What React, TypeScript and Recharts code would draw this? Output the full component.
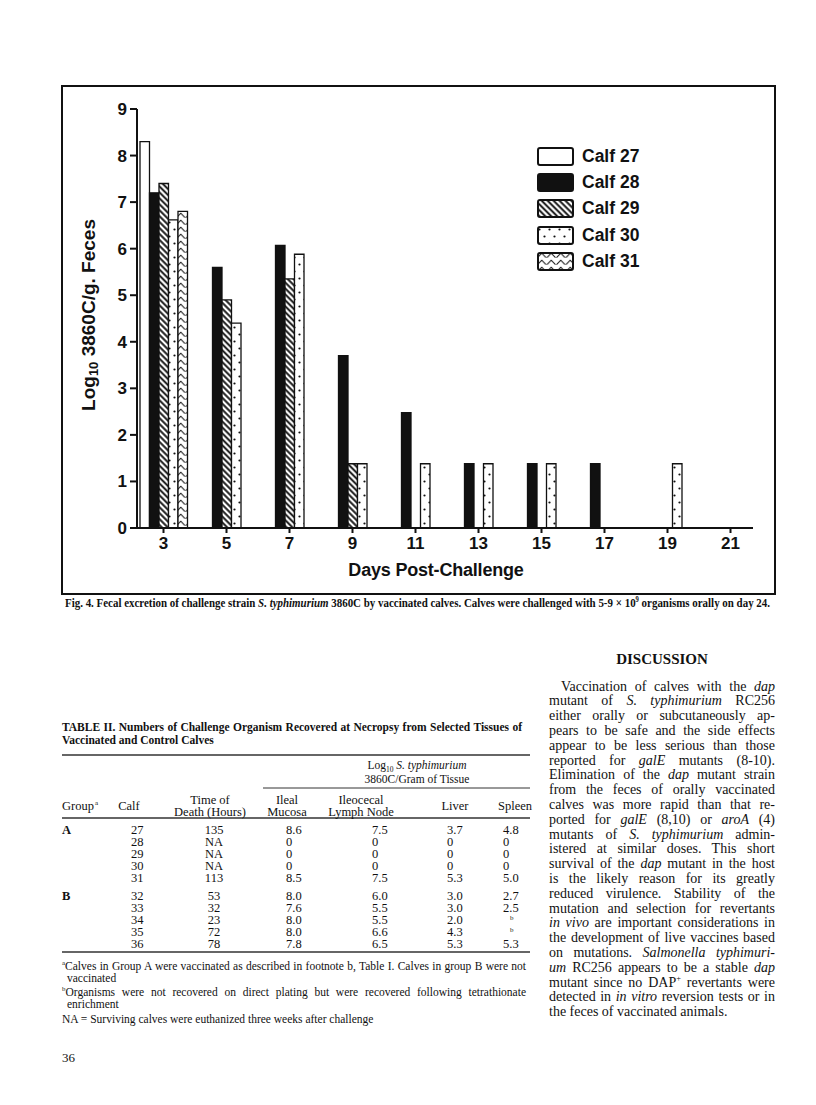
import React, { useLayoutEffect, useRef, useState } from "react";
import { BarChart, Bar, XAxis, YAxis, Legend, Label } from "recharts";

// Fig. 4 - log10 3860C per g feces, by day post-challenge
const days = ["3", "5", "7", "9", "11", "13", "15", "17", "19", "21"];
const calf27 = [8.3, null, null, null, null, null, null, null, null, null];
const calf28 = [7.2, 5.6, 6.07, 3.7, 2.48, 1.38, 1.38, 1.38, null, null];
const calf29 = [7.4, 4.9, 5.35, 1.38, null, null, null, null, null, null];
const calf30 = [6.62, 4.4, 5.88, 1.38, 1.38, 1.38, 1.38, null, 1.38, null];
const calf31 = [6.8, null, null, null, null, null, null, null, null, null];
const yTicks = [0, 1, 2, 3, 4, 5, 6, 7, 8, 9];

const series = [
  { key: "c27", name: "Calf 27", values: calf27, fill: "#fff" },
  { key: "c28", name: "Calf 28", values: calf28, fill: "#111" },
  { key: "c29", name: "Calf 29", values: calf29, fill: "url(#hatch29)" },
  { key: "c30", name: "Calf 30", values: calf30, fill: "url(#dots30)" },
  { key: "c31", name: "Calf 31", values: calf31, fill: "url(#zig31)" },
];

const data = days.map((day, i) => {
  const row: Record<string, string | number | null> = { day };
  series.forEach((s) => (row[s.key] = s.values[i]));
  return row;
});

// Table II
const tableGroups = ["A", "", "", "", "", "B", "", "", "", ""];
const tableCalves = ["27", "28", "29", "30", "31", "32", "33", "34", "35", "36"];
const tableDeath = ["135", "NA", "NA", "NA", "113", "53", "32", "23", "72", "78"];
const tableIleal = ["8.6", "0", "0", "0", "8.5", "8.0", "7.6", "8.0", "8.0", "7.8"];
const tableIleocecal = ["7.5", "0", "0", "0", "7.5", "6.0", "5.5", "5.5", "6.6", "6.5"];
const tableLiver = ["3.7", "0", "0", "0", "5.3", "3.0", "3.0", "2.0", "4.3", "5.3"];
const tableSpleen = ["4.8", "0", "0", "0", "5.0", "2.7", "2.5", "b", "b", "5.3"];
const rowY = [830, 842, 854, 866, 878, 896, 908, 920, 932, 944];

type Seg = [string, ("i" | "s" | "")?];
const discussion: Seg[][] = [
  [["Vaccination of calves with the "], ["dap", "i"]],
  [["mutant of "], ["S. typhimurium", "i"], [" RC256"]],
  [["either orally or subcutaneously ap-"]],
  [["pears to be safe and the side effects"]],
  [["appear to be less serious than those"]],
  [["reported for "], ["galE", "i"], [" mutants (8-10)."]],
  [["Elimination of the "], ["dap", "i"], [" mutant strain"]],
  [["from the feces of orally vaccinated"]],
  [["calves was more rapid than that re-"]],
  [["ported for "], ["galE", "i"], [" (8,10) or "], ["aroA", "i"], [" (4)"]],
  [["mutants of "], ["S. typhimurium", "i"], [" admin-"]],
  [["istered at similar doses. This short"]],
  [["survival of the "], ["dap", "i"], [" mutant in the host"]],
  [["is the likely reason for its greatly"]],
  [["reduced virulence. Stability of the"]],
  [["mutation and selection for revertants"]],
  [["in vivo", "i"], [" are important considerations in"]],
  [["the development of live vaccines based"]],
  [["on mutations. "], ["Salmonella typhimuri-", "i"]],
  [["um", "i"], [" RC256 appears to be a stable "], ["dap", "i"]],
  [["mutant since no DAP"], ["+", "s"], [" revertants were"]],
  [["detected in "], ["in vitro", "i"], [" reversion tests or in"]],
  [["the feces of vaccinated animals."]],
];

const SANS = '"Liberation Sans", Arial, sans-serif';
const SERIF = '"Liberation Serif", "Times New Roman", serif';

const segs = (line: Seg[]) =>
  line.map(([t, st], i) =>
    st === "i" ? (
      <i key={i}>{t}</i>
    ) : st === "s" ? (
      <sup key={i} style={{ fontSize: "0.6em", lineHeight: 0 }}>{t}</sup>
    ) : (
      <span key={i}>{t}</span>
    )
  );

// one line of text stretched (word spacing) or squeezed (scaleX) to a set width
function FitLine(props: {
  x: number;
  y: number;
  size: number;
  width?: number;
  bold?: boolean;
  center?: boolean;
  children: React.ReactNode;
}) {
  const { x, y, size, width, bold, center, children } = props;
  const ref = useRef<HTMLSpanElement>(null);
  const [fit, setFit] = useState({ ws: 0, sx: 1 });
  useLayoutEffect(() => {
    const el = ref.current;
    if (!el || !width) return;
    const natural = el.getBoundingClientRect().width;
    const spaces = (el.textContent || "").split(" ").length - 1;
    if (natural < width && spaces > 0) setFit({ ws: (width - natural) / spaces, sx: 1 });
    else if (natural > width) setFit({ ws: 0, sx: width / natural });
  }, [width]);
  const lh = Math.round(size * 1.1);
  return (
    <div
      style={{
        position: "absolute",
        left: center ? x - 200 : x,
        width: center ? 400 : undefined,
        textAlign: center ? "center" : "left",
        top: y - lh / 2,
        whiteSpace: "nowrap",
        fontFamily: SERIF,
        fontSize: size,
        lineHeight: `${lh}px`,
        fontWeight: bold ? 700 : 400,
        color: "#111",
        transformOrigin: "0 0",
        transform: `scaleX(${fit.sx})`,
      }}
    >
      <span ref={ref} style={{ wordSpacing: fit.ws }}>
        {children}
      </span>
    </div>
  );
}

const YLabel = () => (
  <text
    transform="translate(26,229) rotate(-90)"
    textAnchor="middle"
    dominantBaseline="central"
    fontFamily={SANS}
    fontWeight={700}
    fontSize={19}
    fill="#111"
  >
    Log<tspan fontSize={13} dy={5}>10</tspan>
    <tspan dy={-5}> 3860C/g. Feces</tspan>
  </text>
);

const XLabel = () => (
  <text
    x={374}
    y={484}
    textAnchor="middle"
    dominantBaseline="central"
    fontFamily={SANS}
    fontWeight={700}
    fontSize={18}
    letterSpacing={-0.2}
    fill="#111"
  >
    Days Post-Challenge
  </text>
);

const CalfLegend = () => (
  <div style={{ display: "flex", flexDirection: "column" }}>
    {series.map((s) => (
      <div key={s.key} style={{ display: "flex", alignItems: "center", height: 26.3 }}>
        <svg width={37} height={19}>
          <rect x={1} y={1} width={35} height={17} rx={2} fill={s.fill} stroke="#111" strokeWidth={2} />
        </svg>
        <span style={{ marginLeft: 8, fontFamily: SANS, fontWeight: 700, fontSize: 17.5, color: "#111" }}>
          {s.name}
        </span>
      </div>
    ))}
  </div>
);

const tick = { fill: "#111", fontSize: 17, fontWeight: 700, fontFamily: SANS };

export default function App() {
  return (
    <div style={{ position: "absolute", left: 0, top: 0, width: 816, height: 1105, background: "#fff" }}>
      <svg width={816} height={1105} style={{ position: "absolute", left: 0, top: 0 }} fontFamily={SERIF} fill="#111">
        <rect x={62} y={86} width={713} height={508} fill="none" stroke="#111" strokeWidth={2} />

        {/* Table II rules and cells */}
        <line x1={62} x2={530} y1={755} y2={755} stroke="#333" strokeWidth={1.3} />
        <line x1={263} x2={530} y1={788} y2={788} stroke="#333" strokeWidth={1} />
        <line x1={62} x2={530} y1={818} y2={818} stroke="#333" strokeWidth={1.3} />
        <line x1={62} x2={530} y1={952} y2={952} stroke="#333" strokeWidth={1.3} />
        <g fontSize={12.5}>
          <text x={62} y={810}>Group</text>
          <text x={95} y={805} fontSize={7}>a</text>
          <text x={129} y={810} textAnchor="middle">Calf</text>
          <text x={210} y={804} textAnchor="middle">Time of</text>
          <text x={210} y={816} textAnchor="middle">Death (Hours)</text>
          <text x={287} y={804} textAnchor="middle">Ileal</text>
          <text x={287} y={816} textAnchor="middle">Mucosa</text>
          <text x={361} y={804} textAnchor="middle">Ileocecal</text>
          <text x={361} y={816} textAnchor="middle">Lymph Node</text>
          <text x={455} y={810} textAnchor="middle">Liver</text>
          <text x={515} y={810} textAnchor="middle">Spleen</text>
          {rowY.map((y, i) => (
            <g key={i}>
              <text x={62} y={y + 4} fontWeight={700}>{tableGroups[i]}</text>
              <text x={131} y={y + 4}>{tableCalves[i]}</text>
              <text x={214} y={y + 4} textAnchor="middle">{tableDeath[i]}</text>
              <text x={286} y={y + 4}>{tableIleal[i]}</text>
              <text x={372} y={y + 4}>{tableIleocecal[i]}</text>
              <text x={447} y={y + 4}>{tableLiver[i]}</text>
              {tableSpleen[i] === "b" ? (
                <text x={510} y={y} fontSize={7}>b</text>
              ) : (
                <text x={503} y={y + 4}>{tableSpleen[i]}</text>
              )}
            </g>
          ))}
        </g>
        <text x={62} y={1062} fontSize={13}>36</text>
        <text x={662} y={664} textAnchor="middle" fontWeight={700} fontSize={15}>DISCUSSION</text>
      </svg>

      {/* caption */}
      <FitLine x={65} y={603} size={12.5} width={705} bold>
        Fig. 4. Fecal excretion of challenge strain <i>S. typhimurium</i> 3860C by vaccinated calves. Calves were
        challenged with 5-9 × 10<sup style={{ fontSize: "0.6em", lineHeight: 0 }}>9</sup> organisms orally on day 24.
      </FitLine>

      {/* table title, column group header, footnotes */}
      <FitLine x={62} y={727} size={11.5} width={460} bold>
        TABLE II. Numbers of Challenge Organism Recovered at Necropsy from Selected Tissues of
      </FitLine>
      <FitLine x={62} y={740} size={11.5} bold>
        Vaccinated and Control Calves
      </FitLine>
      <FitLine x={417} y={765} size={11.5} center>
        Log<sub style={{ fontSize: "0.65em", lineHeight: 0 }}>10</sub> <i>S. typhimurium</i>
      </FitLine>
      <FitLine x={417} y={779} size={11.5} center>
        3860C/Gram of Tissue
      </FitLine>
      <FitLine x={62} y={966} size={11.5} width={464}>
        <sup style={{ fontSize: "0.6em", lineHeight: 0 }}>a</sup>Calves in Group A were vaccinated as described in
        footnote b, Table I. Calves in group B were not
      </FitLine>
      <FitLine x={67} y={978} size={11.5}>
        vaccinated
      </FitLine>
      <FitLine x={62} y={992} size={11.5} width={464}>
        <sup style={{ fontSize: "0.6em", lineHeight: 0 }}>b</sup>Organisms were not recovered on direct plating but
        were recovered following tetrathionate
      </FitLine>
      <FitLine x={67} y={1004} size={11.5}>
        enrichment
      </FitLine>
      <FitLine x={62} y={1019} size={11.5}>
        NA = Surviving calves were euthanized three weeks after challenge
      </FitLine>

      {/* discussion column */}
      {discussion.map((line, i) => {
        const last = i === discussion.length - 1;
        const x = i === 0 ? 561 : 549;
        return (
          <FitLine key={i} x={x} y={686 + i * 14.8} size={14} width={last ? undefined : 775 - x}>
            {segs(line)}
          </FitLine>
        );
      })}

      <div style={{ position: "absolute", left: 62, top: 86 }}>
        <BarChart
          width={713}
          height={508}
          data={data}
          margin={{ top: 23, right: 22, left: 45, bottom: 36 }}
          barGap={0}
          barSize={9.5}
        >
          <defs>
            <pattern id="hatch29" patternUnits="userSpaceOnUse" width={4.2} height={4.2} patternTransform="rotate(-45)">
              <rect width={4.2} height={4.2} fill="#fff" />
              <line x1={2.1} y1={0} x2={2.1} y2={4.2} stroke="#111" strokeWidth={1.9} />
            </pattern>
            <pattern id="dots30" patternUnits="userSpaceOnUse" width={10} height={14}>
              <rect width={10} height={14} fill="#fff" />
              <circle cx={2.5} cy={3.5} r={1.1} fill="#111" />
              <circle cx={7.5} cy={10.5} r={1.1} fill="#111" />
            </pattern>
            <pattern id="zig31" patternUnits="userSpaceOnUse" width={9.5} height={7}>
              <rect width={9.5} height={7} fill="#fff" />
              <polyline points="0.5,5.6 4.75,1.2 9,5.6" fill="none" stroke="#111" strokeWidth={1} />
            </pattern>
          </defs>
          <XAxis
            dataKey="day"
            height={30}
            interval={0}
            padding={{ left: -5, right: -9 }}
            axisLine={{ stroke: "#111", strokeWidth: 2 }}
            tickLine={{ stroke: "#111", strokeWidth: 2 }}
            tickSize={5}
            tickMargin={4}
            tick={tick}
          >
            <Label content={XLabel} />
          </XAxis>
          <YAxis
            type="number"
            domain={[0, 9]}
            ticks={yTicks}
            interval={0}
            width={30}
            axisLine={{ stroke: "#111", strokeWidth: 2 }}
            tickLine={{ stroke: "#111", strokeWidth: 2 }}
            tickSize={7}
            tickMargin={3}
            tick={tick}
          >
            <Label content={YLabel} />
          </YAxis>
          <Legend
            layout="vertical"
            align="center"
            verticalAlign="middle"
            content={CalfLegend}
            wrapperStyle={{ left: 475, top: 57, width: "auto" }}
          />
          {series.map((s) => (
            <Bar
              key={s.key}
              dataKey={s.key}
              name={s.name}
              fill={s.fill}
              stroke="#111"
              strokeWidth={1.3}
              isAnimationActive={false}
            />
          ))}
        </BarChart>
      </div>
    </div>
  );
}
